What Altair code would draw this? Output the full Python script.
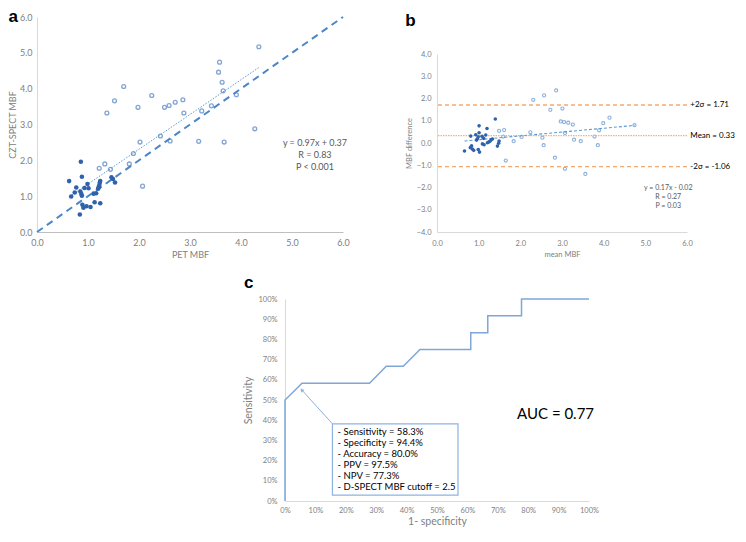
import altair as alt
import pandas as pd

FONT = "Lato"
LETTER_FONT = "Liberation Sans"
GRAY = "#808080"

# ---------------- Panel a: CZT-SPECT vs PET ----------------
a_pet_filled = [0.63, 0.86, 0.88, 0.67, 0.74, 0.77, 0.85, 0.87, 0.88, 0.93, 0.99, 1.01,
                0.89, 0.91, 0.97, 1.05, 0.84, 1.11, 1.16, 1.13, 1.24, 1.20, 1.21, 1.22,
                1.23, 1.24, 1.46, 1.49, 1.53]
a_spect_filled = [1.42, 1.96, 1.54, 0.99, 1.10, 1.24, 1.13, 1.06, 1.01, 1.23, 1.34, 1.22,
                  0.76, 0.68, 0.72, 0.70, 0.49, 1.07, 1.08, 0.83, 0.80, 1.21, 1.25, 1.30,
                  1.37, 1.42, 1.53, 1.48, 1.38]
a_pet_open = [4.35, 3.58, 3.56, 3.63, 3.65, 3.91, 3.42, 3.23, 2.88, 2.86, 2.71, 2.59, 2.50,
              2.25, 1.98, 1.70, 1.52, 1.37, 2.42, 2.61, 3.17, 3.67, 4.27, 2.02, 1.89, 1.81,
              1.33, 1.22, 1.44, 2.07]
a_spect_open = [5.17, 4.74, 4.46, 4.18, 3.94, 3.83, 3.52, 3.38, 3.32, 3.69, 3.62, 3.53, 3.48,
                3.81, 3.48, 4.06, 3.66, 3.32, 2.68, 2.54, 2.53, 2.51, 2.88, 2.51, 2.19, 1.90,
                1.90, 1.78, 1.75, 1.28]
a_identity_x = [0.0, 6.0]
a_identity_y = [0.0, 6.0]
a_fit_x = [0.63, 4.35]
a_fit_y = [0.98, 4.59]
a_stats = ["y = 0.97x + 0.37", "R = 0.83", "P < 0.001"]
a_stats_x = [5.45, 5.45, 5.45]
a_stats_y = [2.48, 2.14, 1.81]
a_ticks = [0, 1, 2, 3, 4, 5, 6]

# ---------------- Panel b: Bland-Altman ----------------
b_mean_filled = [1.01, 1.40, 1.20, 0.81, 0.93, 1.01, 0.99, 0.97, 0.95, 1.08, 1.17, 1.12,
                 0.83, 0.80, 0.85, 0.88, 0.66, 1.09, 1.13, 0.99, 1.02, 1.21, 1.24, 1.27,
                 1.30, 1.33, 1.49, 1.48, 1.45]
b_diff_filled = [0.77, 1.08, 0.65, 0.31, 0.37, 0.46, 0.28, 0.19, 0.13, 0.30, 0.36, 0.21,
                 -0.13, -0.21, -0.27, -0.33, -0.36, -0.04, -0.08, -0.29, -0.41, 0.01, 0.04,
                 0.08, 0.15, 0.18, 0.09, -0.01, -0.14]
b_mean_open = [2.86, 2.57, 2.31, 3.01, 2.72, 4.14, 3.99, 4.74, 2.97, 3.05, 3.15, 3.26, 3.89,
               3.07, 2.24, 1.49, 1.61, 1.59, 2.03, 2.53, 3.78, 3.29, 3.45, 1.84, 2.56, 3.86,
               1.65, 2.83, 3.07, 3.56]
b_diff_open = [2.36, 2.14, 1.94, 1.55, 1.49, 1.14, 0.89, 0.80, 0.97, 0.94, 0.91, 0.83, 0.57,
               0.45, 0.48, 0.55, 0.58, 0.29, 0.27, 0.24, 0.29, 0.15, 0.08, 0.08, -0.10, -0.10,
               -0.79, -0.66, -1.16, -1.39]
b_fit_x = [0.66, 4.74]
b_fit_y = [0.09, 0.79]
b_limit_values = [1.71, -1.06]
b_mean_value = [0.33]
b_limit_labels = ["+2σ = 1.71", "Mean = 0.33", "-2σ = -1.06"]
b_limit_label_y = [1.71, 0.33, -1.06]
b_stats = ["y = 0.17x - 0.02", "R = 0.27", "P = 0.03"]
b_stats_x = [5.55, 5.55, 5.55]
b_stats_y = [-2.0, -2.42, -2.85]
b_xticks = [0, 1, 2, 3, 4, 5, 6]
b_yticks = [-4, -3, -2, -1, 0, 1, 2, 3, 4]

# ---------------- Panel c: ROC ----------------
c_fpr = [0.0, 0.0, 5.6, 27.8, 33.3, 38.9, 44.4, 61.1, 61.1, 66.7, 66.7, 77.8, 77.8, 100.0]
c_tpr = [0.0, 50.0, 58.3, 58.3, 66.7, 66.7, 75.0, 75.0, 83.3, 83.3, 91.7, 91.7, 100.0, 100.0]
c_box_lines = ["- Sensitivity = 58.3%", "- Specificity = 94.4%", "- Accuracy = 80.0%",
               "- PPV = 97.5%", "- NPV = 77.3%", "- D-SPECT MBF cutoff = 2.5"]
c_box_line_y = [34.2, 28.9, 23.5, 18.0, 12.4, 7.1]
c_box_text_x = 17.3
c_box_x = [15.6]
c_box_x2 = [56.9]
c_box_y = [38.2]
c_box_y2 = [2.9]
c_arrow_x = [15.6, 5.5]
c_arrow_y = [38.2, 55.0]
c_auc_text = ["AUC = 0.77"]
c_ticks = [0, 10, 20, 30, 40, 50, 60, 70, 80, 90, 100]


def letter(t, offset):
    return alt.TitleParams(t, anchor="start", frame="bounds", font=LETTER_FONT,
                           fontSize=17, fontWeight="bold", color="black", offset=offset)


# ---------- build panel a ----------
ax_a_x = alt.Axis(title="PET MBF", values=a_ticks, tickCount=30, format=".1f", labelFontSize=9,
                  titleFontSize=9, labelPadding=6, titlePadding=3, labelFlush=False,
                  labelOverlap=False, domainColor="#bfbfbf")
ax_a_y = alt.Axis(title="CZT-SPECT MBF", values=a_ticks, tickCount=30, format=".1f",
                  labelFontSize=9, titleFontSize=9, labelPadding=5, titlePadding=2,
                  labelOverlap=False, domainColor="#d9d9d9")
sx_a = alt.Scale(domain=[0, 6], nice=False)
sy_a = alt.Scale(domain=[0, 6], nice=False)

df_af = pd.DataFrame({"x": a_pet_filled, "y": a_spect_filled})
df_ao = pd.DataFrame({"x": a_pet_open, "y": a_spect_open})
df_aid = pd.DataFrame({"x": a_identity_x, "y": a_identity_y})
df_afit = pd.DataFrame({"x": a_fit_x, "y": a_fit_y})
df_ast = pd.DataFrame({"x": a_stats_x, "y": a_stats_y, "t": a_stats})

a_ident = alt.Chart(df_aid).mark_line(color="#4a86c8", strokeWidth=2, strokeDash=[7, 5]).encode(
    x=alt.X("x:Q", scale=sx_a, axis=ax_a_x), y=alt.Y("y:Q", scale=sy_a, axis=ax_a_y))
a_fit = alt.Chart(df_afit).mark_line(color="#5b9bd5", strokeWidth=1, strokeDash=[1.5, 1.5]).encode(
    x="x:Q", y="y:Q")
a_open = alt.Chart(df_ao).mark_point(shape="circle", filled=False, color="#4f7fbf", size=15,
                                     strokeWidth=1.3).encode(x="x:Q", y="y:Q")
a_fill = alt.Chart(df_af).mark_point(shape="circle", filled=True, color="#2f62ab", size=21,
                                     opacity=1).encode(x="x:Q", y="y:Q")
a_text = alt.Chart(df_ast).mark_text(font=FONT, fontSize=9, color="#595959", align="center",
                                     baseline="middle").encode(x="x:Q", y="y:Q", text="t:N")
panel_a = alt.layer(a_ident, a_fit, a_open, a_fill, a_text).properties(
    width=306, height=215, title=letter("a", -13))

# ---------- build panel b ----------
sx_b = alt.Scale(domain=[0, 6], nice=False)
sy_b = alt.Scale(domain=[-4, 4], nice=False, range=[215, 37])
ax_b_x = alt.Axis(title="mean MBF", values=b_xticks, tickCount=30, format=".1f",
                  labelFontSize=7.5, titleFontSize=7.5, labelPadding=7, titlePadding=4,
                  labelFlush=False, labelOverlap=False, domainColor="#d9d9d9")
ax_b_y = alt.Axis(title="MBF difference", values=b_yticks, tickCount=30, format=".1f",
                  labelFontSize=7.5, titleFontSize=7.5, labelPadding=6, titlePadding=3,
                  labelOverlap=False, domainColor="#d9d9d9")

df_bf = pd.DataFrame({"x": b_mean_filled, "y": b_diff_filled})
df_bo = pd.DataFrame({"x": b_mean_open, "y": b_diff_open})
df_bfit = pd.DataFrame({"x": b_fit_x, "y": b_fit_y})
df_blim = pd.DataFrame({"y": b_limit_values})
df_bmean = pd.DataFrame({"y": b_mean_value})
df_blab = pd.DataFrame({"x": [6.08] * 3, "y": b_limit_label_y, "t": b_limit_labels})
df_bst = pd.DataFrame({"x": b_stats_x, "y": b_stats_y, "t": b_stats})

b_base_pts = alt.Chart(df_bo).mark_point(shape="circle", filled=False, color="#5b8fca", size=10,
                                         strokeWidth=1.1).encode(
    x=alt.X("x:Q", scale=sx_b, axis=ax_b_x), y=alt.Y("y:Q", scale=sy_b, axis=ax_b_y))
b_lim = alt.Chart(df_blim).mark_rule(color="#f4a971", strokeWidth=1.4, strokeDash=[4, 3]).encode(
    y="y:Q")
b_mean = alt.Chart(df_bmean).mark_rule(color="#f5b080", strokeWidth=1.1, strokeDash=[1.5, 1]).encode(
    y="y:Q")
b_fit = alt.Chart(df_bfit).mark_line(color="#5b9bd5", strokeWidth=1.1, strokeDash=[3, 2]).encode(
    x="x:Q", y="y:Q")
b_fill = alt.Chart(df_bf).mark_point(shape="circle", filled=True, color="#2f62ab", size=13,
                                     opacity=1).encode(x="x:Q", y="y:Q")
b_labs = alt.Chart(df_blab).mark_text(font=FONT, fontSize=8, color="black", align="left",
                                      baseline="middle").encode(x="x:Q", y="y:Q", text="t:N")
b_text = alt.Chart(df_bst).mark_text(font=FONT, fontSize=7, color="#595959", align="center",
                                     baseline="middle").encode(x="x:Q", y="y:Q", text="t:N")
panel_b = alt.layer(b_base_pts, b_lim, b_mean, b_fit, b_fill, b_labs, b_text).properties(
    width=250, height=215, title=letter("b", -13))

# ---------- build panel c ----------
sx_c = alt.Scale(domain=[0, 100], nice=False)
sy_c = alt.Scale(domain=[0, 100], nice=False)
ax_c_x = alt.Axis(title="1- specificity", values=c_ticks, tickCount=30,
                  labelExpr="datum.value + '%'", labelFontSize=7.5, titleFontSize=10.5,
                  labelPadding=5, titlePadding=3, labelFlush=False, labelOverlap=False,
                  domainColor="#d9d9d9")
ax_c_y = alt.Axis(title="Sensitivity", values=c_ticks, tickCount=30,
                  labelExpr="datum.value + '%'", labelFontSize=7.5, titleFontSize=10.5,
                  labelPadding=8, titlePadding=4, labelOverlap=False, domainColor="#d9d9d9")

df_roc = pd.DataFrame({"x": c_fpr, "y": c_tpr, "i": list(range(len(c_fpr)))})
df_box = pd.DataFrame({"x": c_box_x, "x2": c_box_x2, "y": c_box_y, "y2": c_box_y2})
df_arrow = pd.DataFrame({"x": c_arrow_x, "y": c_arrow_y, "i": [0, 1]})
df_head = df_arrow.iloc[[1]]
df_btxt = pd.DataFrame({"x": [c_box_text_x] * len(c_box_lines), "y": c_box_line_y, "t": c_box_lines})
df_auc = pd.DataFrame({"x": [89.0], "y": [43.0], "t": c_auc_text})

c_roc = alt.Chart(df_roc).mark_line(color="#7ea7d8", strokeWidth=1.5).encode(
    x=alt.X("x:Q", scale=sx_c, axis=ax_c_x), y=alt.Y("y:Q", scale=sy_c, axis=ax_c_y), order="i:Q")
c_box = alt.Chart(df_box).mark_rect(fill="white", stroke="#8db3e2", strokeWidth=1.2).encode(
    x="x:Q", x2="x2:Q", y="y:Q", y2="y2:Q")
c_arrow = alt.Chart(df_arrow).mark_line(color="#8db3e2", strokeWidth=1).encode(
    x="x:Q", y="y:Q", order="i:Q")
c_head = alt.Chart(df_head).mark_point(shape="triangle-up", filled=True, color="#8db3e2", size=18,
                                       angle=320, opacity=1).encode(x="x:Q", y="y:Q")
c_btxt = alt.Chart(df_btxt).mark_text(font=FONT, fontSize=9.5, color="black", align="left",
                                      baseline="middle").encode(x="x:Q", y="y:Q", text="t:N")
c_auc = alt.Chart(df_auc).mark_text(font=FONT, fontSize=15, color="black", align="center",
                                    baseline="middle").encode(x="x:Q", y="y:Q", text="t:N")
panel_c = alt.layer(c_roc, c_arrow, c_head, c_box, c_btxt, c_auc).properties(
    width=304, height=202, title=letter("c", 3))

spacer = alt.Chart(pd.DataFrame({"s": [0.5]})).mark_point(opacity=0, size=1).encode(
    x=alt.X("s:Q", axis=None, scale=alt.Scale(domain=[0, 1])),
    y=alt.Y("s:Q", axis=None, scale=alt.Scale(domain=[0, 1]))).properties(width=206, height=1)

top = alt.hconcat(panel_a, panel_b, spacing=55)
bottom = alt.hconcat(spacer, panel_c, spacing=0)

chart = alt.vconcat(top, bottom, spacing=15).properties(
    padding={"left": 0, "top": 0, "right": 0, "bottom": 0}
).configure_view(stroke=None).configure_axis(
    grid=False, ticks=False, labelColor=GRAY, titleColor=GRAY, labelFont=FONT, titleFont=FONT,
    titleFontWeight="normal"
).configure_concat(spacing=0)

chart.save("out.html", embed_options={"renderer": "svg", "actions": False})
